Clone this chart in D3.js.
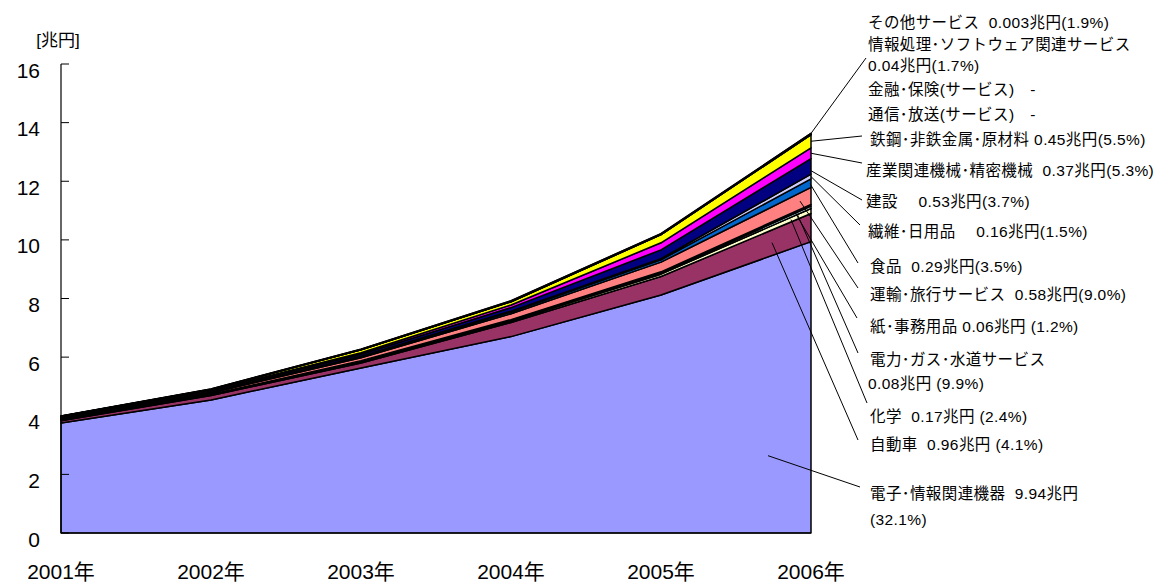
<!DOCTYPE html>
<html>
<head>
<meta charset="utf-8">
<script src="https://cdn.jsdelivr.net/npm/d3@7"></script>
<style>
  body { margin: 0; background: #fff; }
  text { font-family: "Liberation Sans", Arial, "Noto Sans CJK JP", sans-serif; fill: #000; }
  .callout { white-space: pre; }
</style>
</head>
<body>
<svg id="chart" width="1167" height="584"></svg>
<script>
// Years on the x axis
const years = ["2001年", "2002年", "2003年", "2004年", "2005年", "2006年"];
const yTicks = [0, 2, 4, 6, 8, 10, 12, 14, 16];

// Sector names, stacked bottom to top
const sectors = [
  "電子･情報関連機器", "自動車", "化学", "電力･ガス･水道サービス", "紙･事務用品",
  "運輸･旅行サービス", "食品", "繊維･日用品", "建設", "産業関連機械･精密機械",
  "鉄鋼･非鉄金属･原材料", "通信･放送(サービス)", "金融･保険(サービス)",
  "情報処理･ソフトウェア関連サービス", "その他サービス"
];

// Values per sector, 2001-2006 [兆円]
const electronics = [3.75, 4.54, 5.63, 6.70, 8.12, 9.94];
const automobiles = [0.08, 0.15, 0.17, 0.48, 0.63, 0.96];
const chemicals   = [0.02, 0.02, 0.04, 0.05, 0.08, 0.17];
const utilities   = [0.01, 0.01, 0.02, 0.03, 0.04, 0.08];
const paper       = [0.01, 0.01, 0.02, 0.02, 0.04, 0.06];
const transport   = [0.02, 0.05, 0.10, 0.20, 0.33, 0.58];
const food        = [0.01, 0.01, 0.03, 0.06, 0.08, 0.29];
const textiles    = [0.01, 0.01, 0.02, 0.03, 0.04, 0.16];
const construction= [0.03, 0.04, 0.07, 0.12, 0.30, 0.53];
const machinery   = [0.02, 0.03, 0.05, 0.09, 0.24, 0.37];
const steel       = [0.02, 0.03, 0.10, 0.11, 0.28, 0.45];
const telecom     = [0, 0, 0, 0, 0, 0];
const finance     = [0, 0, 0, 0, 0, 0];
const software    = [0.01, 0.01, 0.02, 0.03, 0.03, 0.04];
const otherServ   = [0.001, 0.001, 0.001, 0.002, 0.002, 0.003];

// 2006 share of each sector's figure
const shares = ["32.1%", "4.1%", "2.4%", "9.9%", "1.2%", "9.0%", "3.5%", "1.5%",
                "3.7%", "5.3%", "5.5%", null, null, "1.7%", "1.9%"];

const colors = ["#9999FF", "#993366", "#FFFFCC", "#CCFFFF", "#660066", "#FF8080",
                "#0066CC", "#CCCCFF", "#000080", "#FF00FF", "#FFFF00", "#00FFFF",
                "#800080", "#800000", "#008080"];

const seriesValues = [electronics, automobiles, chemicals, utilities, paper, transport,
  food, textiles, construction, machinery, steel, telecom, finance, software, otherServ];

const rows = years.map((y, i) => {
  const r = { year: y };
  sectors.forEach((s, k) => { r[s] = seriesValues[k][i]; });
  return r;
});

const svg = d3.select("#chart");
const x = d3.scalePoint().domain(years).range([61, 811]);
const y = d3.scaleLinear().domain([0, 16]).range([533, 64]);

const stacked = d3.stack().keys(sectors)(rows);

const area = d3.area()
  .x(d => x(d.data.year))
  .y0(d => y(d[0]))
  .y1(d => y(d[1]));

svg.append("g").selectAll("path")
  .data(stacked)
  .join("path")
  .attr("d", area)
  .attr("fill", (d, i) => colors[i])
  .attr("stroke", "#000")
  .attr("stroke-width", 1.5)
  .attr("stroke-linejoin", "round");

// Y axis with inward ticks
const yAxis = svg.append("g");
yAxis.append("line").attr("x1", 61).attr("x2", 61).attr("y1", y(16)).attr("y2", y(0))
  .attr("stroke", "#000").attr("stroke-width", 1.2);
yAxis.selectAll("line.tick").data(yTicks).join("line").attr("class", "tick")
  .attr("x1", 61).attr("x2", 69).attr("y1", d => y(d)).attr("y2", d => y(d))
  .attr("stroke", "#000").attr("stroke-width", 1);
yAxis.selectAll("text").data(yTicks).join("text")
  .attr("x", 40).attr("y", d => y(d) + 6)
  .attr("text-anchor", "end").attr("dominant-baseline", "central")
  .attr("font-size", 21).text(d => d);
svg.append("line").attr("x1", 61).attr("x2", 811).attr("y1", y(0)).attr("y2", y(0))
  .attr("stroke", "#000").attr("stroke-width", 1.2);

svg.append("text").attr("x", 58).attr("y", 40).attr("text-anchor", "middle")
  .attr("dominant-baseline", "central").attr("font-size", 17).text("[兆円]");

svg.append("g").selectAll("text").data(years).join("text")
  .attr("x", d => x(d)).attr("y", 571)
  .attr("text-anchor", "middle").attr("dominant-baseline", "central")
  .attr("font-size", 21).text(d => d);

// Callout labels for the 2006 figures
const last = years.length - 1;
const fmt = k => `${seriesValues[k][last]}兆円`;
const labelLines = [
  { k: 14, x: 868, y: 22, text: `その他サービス  ${fmt(14)}(${shares[14]})` },
  { k: 13, x: 868, y: 44, text: `${sectors[13]}` },
  { k: 13, x: 868, y: 65, text: `${fmt(13)}(${shares[13]})` },
  { k: 12, x: 868, y: 89, text: `${sectors[12]}　-` },
  { k: 11, x: 868, y: 114, text: `${sectors[11]}　-` },
  { k: 10, x: 870, y: 139, text: `${sectors[10]} ${fmt(10)}(${shares[10]})` },
  { k: 9,  x: 866, y: 170, text: `${sectors[9]}  ${fmt(9)}(${shares[9]})` },
  { k: 8,  x: 866, y: 201, text: `${sectors[8]}　 ${fmt(8)}(${shares[8]})` },
  { k: 7,  x: 868, y: 231, text: `${sectors[7]}　 ${fmt(7)}(${shares[7]})` },
  { k: 6,  x: 870, y: 266, text: `${sectors[6]}  ${fmt(6)}(${shares[6]})` },
  { k: 5,  x: 870, y: 294, text: `${sectors[5]}  ${fmt(5)}(${shares[5]})` },
  { k: 4,  x: 870, y: 326, text: `${sectors[4]} ${fmt(4)} (${shares[4]})` },
  { k: 3,  x: 870, y: 359, text: `${sectors[3]}` },
  { k: 3,  x: 868, y: 383, text: `${fmt(3)} (${shares[3]})` },
  { k: 2,  x: 870, y: 416, text: `${sectors[2]}  ${fmt(2)} (${shares[2]})` },
  { k: 1,  x: 870, y: 444, text: `${sectors[1]}  ${fmt(1)} (${shares[1]})` },
  { k: 0,  x: 870, y: 493, text: `${sectors[0]}  ${fmt(0)}` },
  { k: 0,  x: 870, y: 519, text: `(${shares[0]})` }
];

svg.append("g").selectAll("text").data(labelLines).join("text")
  .attr("class", "callout")
  .attr("x", d => d.x).attr("y", d => d.y)
  .attr("dominant-baseline", "central")
  .attr("font-size", 15.5)
  .attr("letter-spacing", 0.4)
  .text(d => d.text);

// Leader lines: start inside a layer near the right edge, end at the label
const leaders = [
  { k: 14, ax: 811, f: 1.0, ex: 866, ey: 58 },
  { k: 10, ax: 811, f: 0.5, ex: 862, ey: 136 },
  { k: 9,  ax: 811, f: 0.5, ex: 862, ey: 163 },
  { k: 8,  ax: 810, f: 0.3, ex: 862, ey: 200 },
  { k: 7,  ax: 811, f: 0.5, ex: 860, ey: 225 },
  { k: 6,  ax: 810, f: 0.5, ex: 858, ey: 263 },
  { k: 5,  ax: 800, f: 0.5, ex: 858, ey: 288 },
  { k: 4,  ax: 795, f: 0.5, ex: 857, ey: 318 },
  { k: 3,  ax: 797, f: 0.5, ex: 858, ey: 353 },
  { k: 2,  ax: 791, f: 0.5, ex: 867, ey: 403 },
  { k: 1,  ax: 772, f: 0.5, ex: 858, ey: 440 },
  { k: 0,  ax: 768, f: 0.28, ex: 860, ey: 487 }
];

function layerY(k, ax, f) {
  const xa = x(years[last - 1]), xb = x(years[last]);
  const t = (ax - xa) / (xb - xa);
  const s = stacked[k];
  const lo = s[last - 1][0] + t * (s[last][0] - s[last - 1][0]);
  const hi = s[last - 1][1] + t * (s[last][1] - s[last - 1][1]);
  return y(lo + f * (hi - lo));
}

svg.append("g").selectAll("line").data(leaders).join("line")
  .attr("x1", d => d.ax).attr("y1", d => layerY(d.k, d.ax, d.f))
  .attr("x2", d => d.ex).attr("y2", d => d.ey)
  .attr("stroke", "#000").attr("stroke-width", 1);
</script>
</body>
</html>
